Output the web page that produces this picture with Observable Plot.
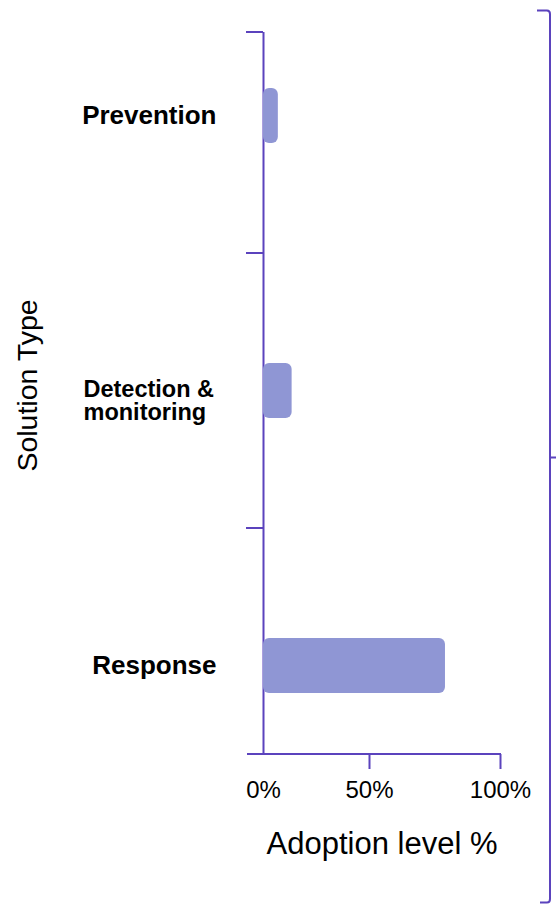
<!DOCTYPE html>
<html>
<head>
<meta charset="utf-8">
<script src="https://cdn.jsdelivr.net/npm/d3@7"></script>
<script src="https://cdn.jsdelivr.net/npm/@observablehq/plot@0.6"></script>
<style>
  html, body { margin: 0; padding: 0; background: #fff; }
  #wrap { position: relative; width: 556px; height: 905px; overflow: hidden; }
  #brace { position: absolute; left: 0; top: 0; pointer-events: none; }
</style>
</head>
<body>
<div id="wrap"></div>
<script>
const categories = ["Prevention", "Detection &\nmonitoring", "Response"];
const adoption = [7, 13.5, 79];
const xTicks = [0, 50, 100];
const xTickLabels = ["0%", "50%", "100%"];
const xTitle = "Adoption level %";
const yTitle = "Solution Type";

const data = categories.map((c, i) => ({type: c, value: adoption[i]}));
const AXIS = "#5B43BD";
const BAR = "#8F96D4";
const FONT = "'Liberation Sans', Arial, Helvetica, sans-serif";

function boundaryTicks(index, scales, values, dims) {
  const xs = typeof scales.x === "function" ? scales.x : scales.x.apply;
  const ys = typeof scales.y === "function" ? scales.y : scales.y.apply;
  const x0 = xs(xTicks[0]);
  const x1 = xs(xTicks[xTicks.length - 1]);
  const top = dims.marginTop;
  const bottom = dims.height - dims.marginBottom;
  const g = d3.create("svg:g")
    .attr("stroke", AXIS).attr("stroke-width", 2).attr("fill", "none");
  const yb = [top, ...categories.slice(1).map((c) => ys(c))];
  for (const y of yb) {
    g.append("line").attr("x1", x0 - 17).attr("x2", x0).attr("y1", y).attr("y2", y);
  }
  g.append("line").attr("x1", x0 - 16).attr("x2", x1 + 1).attr("y1", bottom).attr("y2", bottom);
  return g.node();
}

const chart = Plot.plot({
  width: 556,
  height: 905,
  marginTop: 32,
  marginBottom: 151,
  marginLeft: 263,
  marginRight: 56,
  style: {fontFamily: FONT, background: "white", color: "#000", overflow: "visible"},
  x: {type: "linear", domain: xTicks, range: [263, 369, 500], axis: null},
  y: {type: "band", domain: categories, range: [-23, 804], padding: 0, axis: null},
  marks: [
    Plot.ruleX([xTicks[0]], {stroke: AXIS, strokeWidth: 2}),
    boundaryTicks,
    Plot.barX(data, {y: "type", x: "value", fill: BAR, rx: 6, insetTop: 110, insetBottom: 110}),
    Plot.axisX(xTicks.slice(1), {tickSize: 15, fill: "none", stroke: AXIS, strokeWidth: 2, label: null}),
    Plot.axisX(xTicks, {
      tickSize: 0, tickPadding: 26, fontSize: 24, fill: "#000", label: null,
      tickFormat: (d) => xTickLabels[xTicks.indexOf(d)]
    }),
    Plot.text(categories, {
      filter: (d) => !d.includes("\n"), y: (d) => d, text: (d) => d,
      frameAnchor: "left", dx: -47, textAnchor: "end", lineAnchor: "middle",
      fontWeight: "bold", fontSize: 26, fill: "#000"
    }),
    Plot.text(categories, {
      filter: (d) => d.includes("\n"), y: (d) => d, text: (d) => d,
      frameAnchor: "left", dx: -180, dy: 10, textAnchor: "start", lineAnchor: "middle",
      fontWeight: "bold", fontSize: 23.5, lineHeight: 1, fill: "#000"
    }),
    Plot.text([xTitle], {
      text: (d) => d, frameAnchor: "bottom", dy: 89.5, lineAnchor: "middle",
      fontSize: 31, fill: "#000"
    }),
    Plot.text([yTitle], {
      text: (d) => d, frameAnchor: "left", dx: -236, dy: -8, rotate: -90,
      textAnchor: "middle", lineAnchor: "middle", fontSize: 28.5, fill: "#000"
    })
  ]
});

const wrap = document.getElementById("wrap");
wrap.appendChild(chart);

// decorative right-hand bracket
const brace = d3.select(wrap).append("svg")
  .attr("id", "brace").attr("width", 556).attr("height", 905);
brace.append("path")
  .attr("d", "M537,10.5 L547,10.5 Q550,10.5 550,14 L550,457.5 L556,457.5 M550,457.5 L550,899 Q550,902.5 547,902.5 L540,902.5")
  .attr("stroke", AXIS).attr("stroke-width", 2).attr("fill", "none");
</script>
</body>
</html>
